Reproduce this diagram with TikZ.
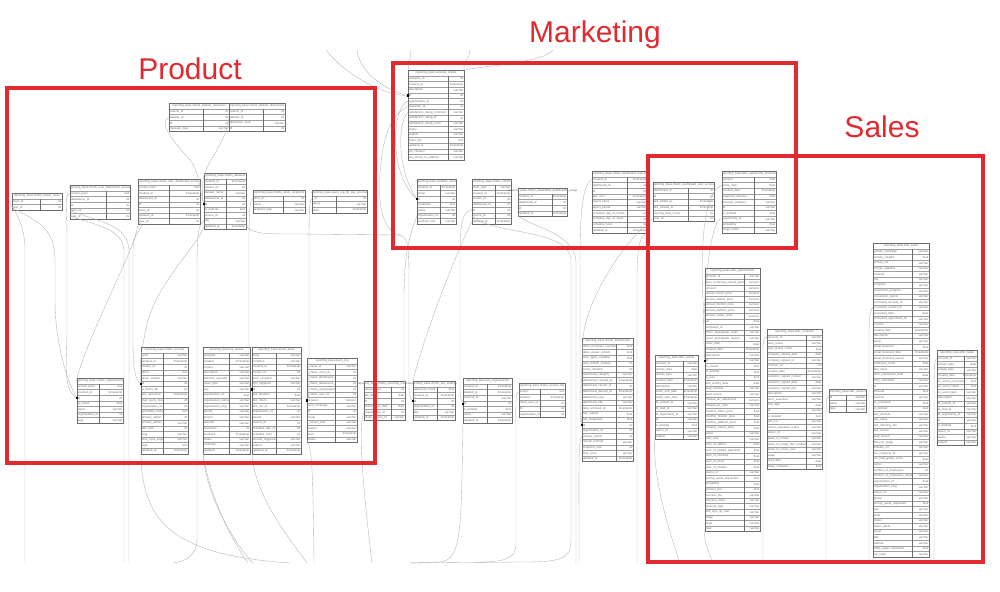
\documentclass[tikz,border=0pt]{standalone}
\usepackage{fontspec}
\setmainfont{Liberation Sans}
\definecolor{redbox}{HTML}{E02A2F}
\tikzset{
 tblrow/.style={draw=gray!75, line width=0.35pt},
 tblout/.style={draw=gray!85!black, line width=0.4pt},
 ftxt/.style={font=\fontsize{2.9}{3}\selectfont, text=gray!85!black, inner sep=0},
 conn/.style={draw=gray!60, line width=0.35pt},
 sq/.style={fill=black, minimum size=2.2pt, inner sep=0, draw=none},
 region/.style={draw=redbox, line width=4pt},
 regionlabel/.style={text=redbox, font=\fontsize{30}{30}\selectfont, inner sep=0, anchor=base},
}
\newcommand{\dbtable}[7]{%
 \draw[tblrow] (#2,#3) rectangle (#2+#4,#3+6);
 \node[ftxt] (#1-title) at (#2+#4/2,#3+3.1) {#6};
 \foreach[count=\i] \fa/\ty in {#7}{%
   \pgfmathsetmacro{\yy}{#3+6+(\i-1)*5.6}
   \draw[tblrow] (#2,\yy) rectangle (#2+#4,\yy+5.6);
   \begin{scope}
     \clip (#2,\yy) rectangle (#2+#5,\yy+5.6);
     \node[ftxt,anchor=west] (#1-f\i) at (#2+0.8,\yy+2.9) {\fa};
   \end{scope}
   \node[ftxt,anchor=east] (#1-t\i) at (#2+#4-0.5,\yy+2.9) {\ty};
   \coordinate (#1-\i) at (#2,\yy+2.8);
   \coordinate (#1-e\i) at (#2+#4,\yy+2.8);
   \xdef\nrows{\i}
 }
 \pgfmathsetmacro{\ybot}{#3+6+\nrows*5.6}
 \draw[tblout] (#2+#5,#3+6) -- (#2+#5,\ybot);
 \draw[tblout] (#2,#3) rectangle (#2+#4,\ybot);
 \coordinate (#1-nw) at (#2,#3);
 \coordinate (#1-ne) at (#2+#4,#3);
 \coordinate (#1-sw) at (#2,\ybot);
 \coordinate (#1-se) at (#2+#4,\ybot);
}
\begin{document}
\catcode`\_=12
\begin{tikzpicture}[x=1pt,y=-1pt]
\fill[white] (0,0) rectangle (1000,591);
\useasboundingbox (0,0) rectangle (1000,591);

% ---------------- Product tables
\dbtable{dsm}{169}{103}{60}{34}{reporting_base.charts_dataset_measures}{column_id/int, dataset_id/int, id/int, measure_type/varchar}
\dbtable{dsd}{229}{103}{56}{34}{reporting_base.charts_dataset_dimensions}{column_id/int, dataset_id/int, dimension_level/varchar, id/int}
\dbtable{tu}{12}{193}{50}{28}{reporting_base.charts_teams_users}{team_id/int, user_id/int}
\dbtable{uda}{70}{185}{60}{36}{reporting_base.charts_user_datasource_access}{access_level/text, datasource_id/int, id/int, team_id/int, user_id/int}
\dbtable{udb}{138}{179}{62}{31}{reporting_base.charts_user_dashboard_access}{access_level/text, created_at/timestamp, dashboard_id/int, id/int, team_id/int, updated_at/timestamp, user_id/int}
\dbtable{ds}{204}{173}{42}{22}{reporting_base.charts_datasets}{created_at/timestamp, creator_id/int, dataset_name/varchar, datasource_id/int, id/int, is_manual/bool, source_id/int, tag/varchar, updated_at/timestamp}
\dbtable{ar}{253}{190}{52}{30}{reporting_base.charts_alerts_recipients}{alert_id/int, name/varchar, recipient_type/varchar}
\dbtable{qls}{312}{190}{55}{24}{reporting_base.query_log_60_day_sources}{_id/int, query/varchar, start/timestamp}
\dbtable{org}{77}{378}{46}{22}{reporting_base.charts_organizations}{access_level/text, created_at/timestamp, id/int, is_owner/bool, name/varchar, organization_id/int, slug/varchar}
\dbtable{src}{141}{347}{47}{22}{reporting_base.charts_sources}{acan/varchar, created_at/timestamp, creator_id/int, driver/text, driver_version/varchar, id/int, is_demo_db/int, last_refreshed/timestamp, max_query_duration/int, organization_id/int, permitted_mode/text, primary_admin/int, primary_admin_type/varchar, rate_limit/int, slug/varchar, time_zone_support/varchar, type/text, updated_at/timestamp}
\dbtable{jira}{203}{347}{47}{26}{reporting_base.jira_issues}{assignee/varchar, created/timestamp, creator/varchar, description/varchar, effective_sysvalid/varchar, issue_type/varchar, key/varchar, organization_id/float, organization_name/varchar, organization_slug/varchar, priority/varchar, project/varchar, reporter/varchar, resolution/int, resolved/timestamp, status/varchar, summary/varchar, updated/timestamp}
\dbtable{alr}{252}{347}{49}{24}{reporting_base.charts_alerts}{body/varchar, condition/varchar, created_at/timestamp, creator_id/int, error_recipient/varchar, first_triggered/varchar, id/int, last_duration/float, last_return/varchar, last_run_at/timestamp, organization_id/int, period/varchar, source_id/int, schedule_day_of_week/int, schedule_hour/int, second_triggered/varchar, subject/varchar, updated_at/timestamp}
\dbtable{ql}{307}{358}{50}{28}{reporting_base.query_log}{_cause_id/varchar, _charts_chart_id/int, _charts_dashboard_id/int, _charts_datasource_id/int, _charts_organization_id/int, _charts_user_id/int, duration/numeric, error_message/varchar, id/int, mode/varchar, _service_due/varchar, reason/varchar, start/timestamp, status/varchar}

% ---------------- middle tables
\dbtable{rec}{364}{381}{41}{27}{reporting_base.charts_recurring_invoices}{amount_due/int, bill_date/date, id/int, invoice_due_date/date, organization_id/int, stripe_invoice_id/varchar}
\dbtable{sso}{413}{381}{42}{24}{reporting_base.charts_sso_settings}{advanced_mode/bool, created_at/timestamp, id/int, organization_id/int, title/varchar, updated_at/timestamp}
\dbtable{jorg}{463}{378}{49}{24}{reporting_base.jira_organizations}{created_at/timestamp, deleted_at/timestamp, external_id/varchar, id/int, is_deleted/bool, name/varchar, updated_at/timestamp}
\dbtable{acc}{519}{383}{46}{21}{reporting_base.charts_access_log}{action/text, created/timestamp, client_user_id/int, id/int, organization_id/int}
\dbtable{dash}{582}{338}{51}{34}{reporting_base.charts_dashboards}{allow_crossover_override/bool, allow_viewer_refresh/bool, auto_apply_variables/bool, auto_refresh_manual/int, cache_duration/int, dashboard_category/varchar, dashboard_created_at/timestamp, dashboard_creator_id/int, dashboard_deleted_at/timestamp, dashboard_slug/varchar, dashboard_title/varchar, date_archived_on/timestamp, has_reports/bool, has_snapshots/bool, id/int, organization_id/int, primary_admin/int, refresh_method/varchar, snapshot_hour/int, time_zone/varchar, updated_at/timestamp}

% ---------------- Marketing tables
\dbtable{zt}{408}{70}{56}{40}{reporting_base.zendesk_tickets}{assignee_id/int, created_at/timestamp, description/varchar, id/int, organization_id/int, requester_id/int, satisfaction_rating_comment/varchar, satisfaction_rating_id/int, satisfaction_rating_score/varchar, status/varchar, subject/varchar, ticket_link/text, updated_at/timestamp, via_channel/varchar, via_source_to_address/varchar}
\dbtable{zu}{417}{179}{39}{23}{reporting_base.zendesk_users}{created_at/timestamp, email/varchar, id/int, moderator/bool, name/varchar, organization_id/int, zendesk_role/varchar}
\dbtable{ch}{472}{179}{39}{23}{reporting_base.charts_charts}{chart_type/varchar, created_at/timestamp, creator_id/int, dashboard_id/int, id/int, source_id/int, updated_at/timestamp}
\dbtable{emb}{518}{188}{49}{34}{reporting_base.charts_embedded_dashboards_usage}{created_at/timestamp, dashboard_id/int, id/int, updated_at/timestamp}
\dbtable{dr}{592}{171}{55}{35}{reporting_base.charts_dashboard_reports}{created_at/timestamp, dashboard_id/int, id/int, last_sent/timestamp, report_name/varchar, report_period/varchar, schedule_day_of_month/int, schedule_day_of_week/int, schedule_hour/int, updated_at/timestamp}
\dbtable{dua}{653}{182}{61}{35}{reporting_base.charts_dashboard_user_access}{dashboard_id/int, id/int, last_edited_at/timestamp, last_viewed_at/timestamp, running_view_count/int, user_id/int}

% ---------------- Sales tables
\dbtable{oh}{722}{171}{54}{32}{reporting_base.sfdc_opportunity_histories}{amount/float, close_date/date, created_date/timestamp, expected_revenue/float, forecast_category/varchar, id/varchar, is_deleted/bool, opportunity_id/varchar, probability/float, stage_name/varchar}
\dbtable{ev}{655}{355}{43}{28}{reporting_base.sfdc_events}{account_id/varchar, activity_date/date, activity_type/varchar, created_date/timestamp, description/varchar, event_end_date/timestamp, event_start_date/timestamp, fk_contact_id/varchar, fk_lead_id/varchar, fk_opportunity_id/varchar, id/varchar, is_deleted/bool, owner_id/varchar, subject/varchar}
\dbtable{opp}{705}{268}{55}{39}{reporting_base.sfdc_opportunities}{account_id/varchar, auto_combined_annual_price/numeric, amount/numeric, annual_action_price/numeric, annual_embed_price/numeric, annual_monitor_price/numeric, annual_platform_price/numeric, annual_viewer_price/numeric, arr/float, campaign_id/varchar, churn_downgrade_notes/varchar, churn_downgrade_reason/varchar, close_date/date, created_date/timestamp, description/varchar, id/varchar, is_closed/bool, is_deleted/bool, is_won/bool, last_activity_date/date, lead_channel/varchar, lead_source/varchar, manual_arr_adjustment/numeric, manual_arr_note/varchar, monthly_editor_price/float, monthly_monitor_price/float, monthly_platform_price/float, monthly_viewer_price/float, name/varchar, next_step/varchar, num_of_editors/float, num_of_embed_payments/float, num_of_monitors/float, num_of_users/float, num_of_viewers/float, owner_id/varchar, pricing_quote_requested/bool, probability/float, product_poe/bool, success_fits/varchar, success_notes/varchar, revenue_type/varchar, self_sign_up_user/varchar, stage/varchar, state/varchar, type/varchar}
\dbtable{con}{767}{329}{55}{39}{reporting_base.sfdc_contracts}{account_id/varchar, auto_renew/varchar, auto_renew_count/bool, company_signed_date/date, company_signed_id/varchar, contract_arr/int, created_date/timestamp, customer_signed_contact/varchar, customer_signed_date/date, customer_signed_title/varchar, description/varchar, docs_executed/varchar, end_date/date, id/varchar, is_deleted/bool, opt_out/varchar, owner_expiration_notice/varchar, owner_id/varchar, plans_to_renew/varchar, plans_to_renew_this_contract/varchar, plans_to_renew_year/varchar, stage/varchar, start_date/date, times_renewed/float}
\dbtable{own}{829}{389}{37}{17}{reporting_base.sfdc_owners}{id/varchar, name/varchar, type/varchar}
\dbtable{lead}{873}{243}{56}{39}{reporting_base.sfdc_leads}{activity_campaign/varchar, activity_created/bool, activity_cta/varchar, activity_updated/varchar, channel/varchar, city/varchar, company/varchar, conversion_program/varchar, conversion_source/varchar, converted_account_id/varchar, converted_contact_id/varchar, converted_date/date, converted_opportunity_id/varchar, country/varchar, created_date/timestamp, description/varchar, email/varchar, email_bounced/bool, email_bounced_date/timestamp, email_bounced_reason/varchar, employee_count/float, first_name/varchar, form_submission_date/date, form_submitted/varchar, id/varchar, inbound/bool, industry/varchar, is_converted/bool, is_deleted/bool, last_channel/varchar, last_name/varchar, last_referring_site/varchar, last_source/varchar, lead_source/varchar, lifecycle_stage/varchar, linkedin_url/varchar, mo_customer_fit/varchar, mo_lead_grade_score/float, name/varchar, number_of_employees/int, number_of_employees_range/varchar, organization_id/float, organization_slug/varchar, owner_id/varchar, phone/varchar, pricing_quote_requested/bool, role/varchar, state/varchar, status/varchar, status_detail/varchar, street/varchar, title/varchar, website/varchar, white_paper_download/bool, zip_code/varchar}
\dbtable{task}{937}{350}{40}{27}{reporting_base.sfdc_tasks}{account_id/varchar, activity_date/date, activity_type/varchar, created_date/timestamp, cs_event_accounted/bool, cs_event_noted/bool, cs_event_type/varchar, description/varchar, fk_contact_id/varchar, fk_lead_id/varchar, fk_opportunity_id/varchar, id/varchar, is_deleted/bool, owner_id/varchar, status/varchar, subject/varchar}

% ---------------- free ends
\coordinate (tA) at (326,50); \coordinate (tB) at (357,50); \coordinate (tC) at (411,50);
\coordinate (tD) at (470,50); \coordinate (tE) at (553,50);
\coordinate (b25) at (25,563); \coordinate (b124) at (124,563); \coordinate (b129) at (129,563);
\coordinate (b173) at (173,563); \coordinate (b248) at (248,563); \coordinate (b252) at (253,563);
\coordinate (b290) at (290,563); \coordinate (b307) at (307,563); \coordinate (b313) at (314,563);
\coordinate (b372) at (372,563); \coordinate (b410) at (410,563); \coordinate (b576) at (576,563);
\coordinate (b579) at (579,563); \coordinate (b637) at (637,563); \coordinate (b680) at (680,563);
\coordinate (b712) at (712,563); \coordinate (b763) at (763,563); \coordinate (b826) at (826,563);
\coordinate (b869) at (869,563); \coordinate (b934) at (934,563);

% ---------------- connectors: top / Marketing
\draw[conn] (tA) .. controls (345,75) and (385,96) .. (zt-4);
\draw[conn] (tB) .. controls (360,75) and (390,92) .. (zt-4);
\draw[conn] (tC) .. controls (411,56) and (409,62) .. (zt-nw);
\draw[conn] (tD) .. controls (470,58) and (462,64) .. (zt-ne);
\draw[conn] (zt-ne) .. controls (485,66) and (545,62) .. (tE);
\draw[conn] (zt-5) .. controls (392,105) and (388,175) .. (zu-3);
\draw[conn] (zt-7) .. controls (398,120) and (396,170) .. (zu-3);
\draw[conn] (zt-6) .. controls (385,115) and (378,160) .. (380,200) .. controls (382,225) and (392,233) .. (400,235);
\draw[conn] (ds-e9) .. controls (256,234) and (262,234) .. (300,234) -- (398,235) .. controls (408,235) and (409,245) .. (409,280) -- (409,385) .. controls (409,395) and (410,399) .. (sso-3);
\draw[conn] (ch-7) .. controls (462,240) and (425,330) .. (sso-nw);
\draw[conn] (ch-5) .. controls (462,210) and (460,225) .. (460,260) -- (460,390) .. controls (460,396) and (461,400) .. (jorg-4);
\draw[conn] (zu-6) .. controls (410,235) and (404,250) .. (404,300) -- (404,370) .. controls (404,380) and (404,385) .. (rec-ne);
\draw[conn] (rec-5) .. controls (358,425) and (362,480) .. (b372);
\draw[conn] (ch-6) .. controls (490,235) and (570,228) .. (571,260) -- (571,540) .. controls (571,560) and (560,562) .. (520,562) -- (b410);
\draw[conn] (emb-4) .. controls (520,225) and (575,230) .. (576,262) -- (b576);
\draw[conn] (jorg-sw) .. controls (461,530) and (462,560) .. (440,562) -- (b410);
\draw[conn] (acc-1) .. controls (515,392) and (516,400) .. (516,450) -- (516,545) .. controls (516,558) and (505,562) .. (480,562);
\draw[conn] (dua-6) .. controls (625,240) and (585,300) .. (583,340) .. controls (581,380) and (580,420) .. (dash-15);
\draw[conn] (dr-1) .. controls (585,182) and (580,200) .. (580,260) -- (580,400) .. controls (580,415) and (580,422) .. (dash-15);
\draw[conn] (dash-17) .. controls (578,440) and (579,460) .. (b579);
\draw[conn] (dr-se) .. controls (640,236) and (637,245) .. (637,280) -- (b637);

% ---------------- connectors: Sales
\draw[conn] (oh-8) .. controls (712,215) and (704,280) .. (704,330) .. controls (704,345) and (704,355) .. (opp-16);
\draw[conn] (oh-2) .. controls (705,190) and (700,240) .. (703,300) .. controls (704,330) and (704,350) .. (opp-16);
\draw[conn] (ev-14) .. controls (652,470) and (665,520) .. (b680);
\draw[conn] (opp-46) .. controls (703,545) and (710,550) .. (b712);
\draw[conn] (con-1) .. controls (762,335) and (763,345) .. (763,380) -- (b763);
\draw[conn] (own-1) .. controls (826,394) and (826,400) .. (826,430) -- (b826);
\draw[conn] (lead-11) .. controls (868,310) and (869,330) .. (869,380) -- (b869);
\draw[conn] (task-1) .. controls (934,358) and (934,370) .. (934,400) -- (b934);

% ---------------- connectors: Product
\draw[conn] (dsm-2) .. controls (158,122) and (172,140) .. (190,160) .. controls (200,172) and (200,195) .. (ds-5);
\draw[conn] (dsd-2) .. controls (226,145) and (206,160) .. (203,180) .. controls (202,192) and (202,200) .. (ds-5);
\draw[conn] (tu-1) .. controls (2,200) and (25,212) .. (25,250) -- (b25);
\draw[conn] (tu-2) .. controls (38,222) and (55,228) .. (55,260) -- (55,300) .. controls (55,340) and (66,380) .. (org-3);
\draw[conn] (uda-1) .. controls (64,194) and (67,205) .. (67,240) -- (67,330) .. controls (67,360) and (62,390) .. (org-3);
\draw[conn] (org-nw) .. controls (90,330) and (135,250) .. (udb-sw);
\draw[conn] (uda-5) .. controls (95,225) and (122,228) .. (124,250) -- (b124);
\draw[conn] (uda-4) .. controls (100,222) and (128,225) .. (129,250) -- (b129);
\draw[conn] (udb-7) .. controls (148,228) and (133,228) .. (133,250) -- (133,340) .. controls (133,370) and (135,380) .. (src-6);
\draw[conn] (ds-9) .. controls (198,245) and (160,280) .. (148,320) .. controls (143,340) and (138,370) .. (src-6);
\draw[conn] (ds-8) .. controls (197,225) and (197,240) .. (197,280) -- (197,540) .. controls (197,555) and (185,562) .. (b173);
\draw[conn] (ar-1) .. controls (249,200) and (249,215) .. (249,260) -- (249,380) .. controls (249,386) and (250,388) .. (alr-7);
\draw[conn] (qls-1) .. controls (309,198) and (309,215) .. (309,260) -- (309,390) .. controls (309,395) and (308,397) .. (ql-7);
\draw[conn] (src-sw) .. controls (142,520) and (170,555) .. (b290);
\draw[conn] (jira-sw) .. controls (210,500) and (235,545) .. (b248);
\draw[conn] (jira-18) .. controls (205,500) and (240,550) .. (b252);
\draw[conn] (alr-sw) .. controls (255,500) and (295,545) .. (b307);
\draw[conn] (ql-14) .. controls (312,450) and (313,470) .. (b313);

% ---------------- key markers
\node[sq] (m1) at (zt-4) {};
\node[sq] (m2) at (zu-3) {};
\node[sq] (m3) at (ds-5) {};
\node[sq] (m4) at (org-3) {};
\node[sq] (m5) at (src-6) {};
\node[sq] (m6) at (alr-7) {};
\node[sq] (m7) at (ql-7) {};
\node[sq] (m8) at (sso-3) {};
\node[sq] (m9) at (jorg-4) {};
\node[sq] (m10) at (dash-15) {};
\node[sq] (m11) at (opp-16) {};

% ---------------- regions
\draw[region] (7,88) rectangle (375,463);
\draw[region] (393,63) rectangle (796,248);
\draw[region] (648,156) rectangle (983,562);
\node[regionlabel] (lprod) at (190,80) {Product};
\node[regionlabel] (lmkt) at (595,43) {Marketing};
\node[regionlabel] (lsales) at (882,137) {Sales};
\end{tikzpicture}
\end{document}
